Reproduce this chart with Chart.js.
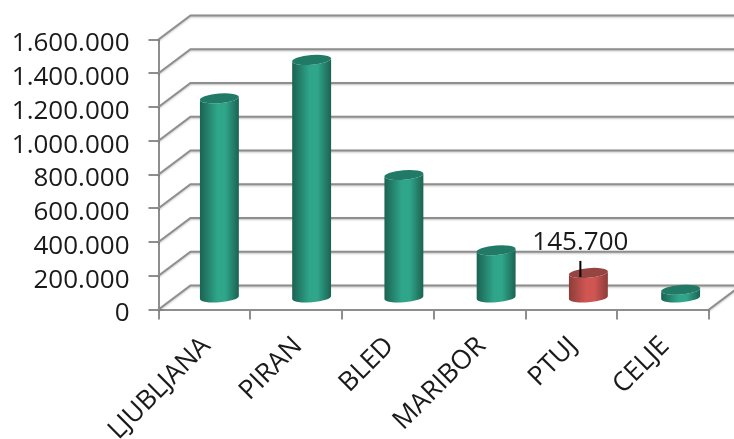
<!DOCTYPE html>
<html>
<head>
<meta charset="utf-8">
<title>Prenočitve po mestih</title>
<script src="https://cdn.jsdelivr.net/npm/chart.js@4/dist/chart.umd.js"></script>
<style>
    html, body { margin: 0; padding: 0; background: #fff; overflow: hidden; }
    canvas { display: block; }
</style>
</head>
<body>
<canvas id="chart" width="734" height="439"></canvas>
<script>
// Chart data
const cities = ['LJUBLJANA', 'PIRAN', 'BLED', 'MARIBOR', 'PTUJ', 'CELJE'];
const visits = [1180000, 1408000, 726000, 280000, 145700, 46000];
const labelledCity = 'PTUJ';

const fontFamily = '"Open Sans", sans-serif';
const gridColor = '#8e8e8e';

// Depth of the pseudo 3D box, bars stand halfway in
const depthX = 32;
const depthY = 24;
// Bars drift a little to the right with perspective
const drift = 0.5;

const palettes = {
    normal: { edge: '#1b6252', mid: '#2fa68a', top: '#217a66' },
    marked: { edge: '#8c3d3a', mid: '#d05653', top: '#964441' }
};

function formatNumber(value) {
    return String(value).replace(/\B(?=(\d{3})+(?!\d))/g, '.');
}

function barCenter(bar, i) {
    return bar.x + depthX / 2 - 1 + i * drift;
}

// Floor, side wall and back wall lines behind the bars
const boxPlugin = {
    id: 'box',
    beforeDatasetsDraw(chart) {
        const { ctx, chartArea, scales } = chart;
        ctx.save();
        ctx.strokeStyle = gridColor;
        ctx.lineWidth = 2;
        ctx.shadowColor = 'rgba(0,0,0,0.25)';
        ctx.shadowBlur = 2;
        ctx.shadowOffsetY = 1;
        scales.y.ticks.forEach(tick => {
            const y = scales.y.getPixelForValue(tick.value);
            ctx.beginPath();
            ctx.moveTo(chartArea.left, y);
            ctx.lineTo(chartArea.left + depthX, y - depthY);
            ctx.lineTo(chartArea.right + depthX, y - depthY);
            ctx.stroke();
        });
        ctx.beginPath();
        ctx.moveTo(chartArea.right, chartArea.bottom);
        ctx.lineTo(chartArea.right + depthX, chartArea.bottom - depthY);
        ctx.stroke();
        ctx.restore();
    }
};

// Cylinders are drawn from the bar elements, so they follow the scales
const cylinderPlugin = {
    id: 'cylinders',
    afterDatasetsDraw(chart) {
        const { ctx } = chart;
        const tilt = -0.08;
        chart.getDatasetMeta(0).data.forEach((bar, i) => {
            const colors = cities[i] === labelledCity ? palettes.marked : palettes.normal;
            const x = barCenter(bar, i);
            const top = bar.y - depthY / 2;
            const base = bar.base - depthY / 2 + 1;
            const rx = bar.width / 2;
            const ry = 4.8;
            const lift = rx * Math.sin(tilt);

            const body = ctx.createLinearGradient(x - rx, 0, x + rx, 0);
            body.addColorStop(0, colors.edge);
            body.addColorStop(0.45, colors.mid);
            body.addColorStop(0.65, colors.mid);
            body.addColorStop(1, colors.edge);

            ctx.save();
            ctx.fillStyle = body;
            ctx.beginPath();
            ctx.ellipse(x, base, rx, ry, tilt, Math.PI, 0, true);
            ctx.lineTo(x + rx, top + lift);
            ctx.ellipse(x, top, rx, ry, tilt, 0, Math.PI, false);
            ctx.closePath();
            ctx.fill();

            ctx.fillStyle = colors.top;
            ctx.beginPath();
            ctx.ellipse(x, top, rx, ry, tilt, 0, Math.PI * 2);
            ctx.fill();
            ctx.restore();
        });
    }
};

// Value label with its short leader line
const valueLabelPlugin = {
    id: 'valueLabel',
    afterDraw(chart) {
        const { ctx } = chart;
        const i = cities.indexOf(labelledCity);
        const bar = chart.getDatasetMeta(0).data[i];
        const x = barCenter(bar, i) - 8;
        const top = bar.y - depthY / 2;
        ctx.save();
        ctx.strokeStyle = '#000';
        ctx.lineWidth = 2;
        ctx.beginPath();
        ctx.moveTo(x, top + 4);
        ctx.lineTo(x, top - 12);
        ctx.stroke();
        ctx.fillStyle = '#1a1a1a';
        ctx.font = '26px ' + fontFamily;
        ctx.textAlign = 'center';
        ctx.textBaseline = 'alphabetic';
        ctx.fillText(formatNumber(visits[i]), x, top - 23);
        ctx.restore();
    }
};

new Chart(document.getElementById('chart'), {
    type: 'bar',
    data: {
        labels: cities,
        datasets: [{
            data: visits,
            backgroundColor: 'transparent',
            barThickness: 39
        }]
    },
    options: {
        responsive: false,
        animation: false,
        layout: {
            autoPadding: false,
            padding: { top: 39.5, right: 25 }
        },
        plugins: {
            legend: { display: false },
            tooltip: { enabled: false }
        },
        scales: {
            x: {
                afterFit(scale) { scale.height = 129.5; },
                border: { color: gridColor, width: 2 },
                grid: { drawOnChartArea: false, color: gridColor, lineWidth: 2, tickLength: 10 },
                ticks: {
                    autoSkip: false,
                    minRotation: 45,
                    maxRotation: 45,
                    padding: 11,
                    labelOffset: 2,
                    color: '#1a1a1a',
                    font: { family: fontFamily, size: 26.5 }
                }
            },
            y: {
                min: 0,
                max: 1600000,
                afterFit(scale) { scale.width = 158.5; },
                border: { color: gridColor, width: 2 },
                grid: { drawOnChartArea: false, color: gridColor, lineWidth: 2, tickLength: 10 },
                ticks: {
                    autoSkip: false,
                    stepSize: 200000,
                    padding: 19,
                    color: '#1a1a1a',
                    // the empty first line pushes the number just under its tick
                    font: { family: fontFamily, size: 26, lineHeight: '9px' },
                    callback: value => ['', formatNumber(value)]
                }
            }
        }
    },
    plugins: [boxPlugin, cylinderPlugin, valueLabelPlugin]
});
</script>
</body>
</html>
